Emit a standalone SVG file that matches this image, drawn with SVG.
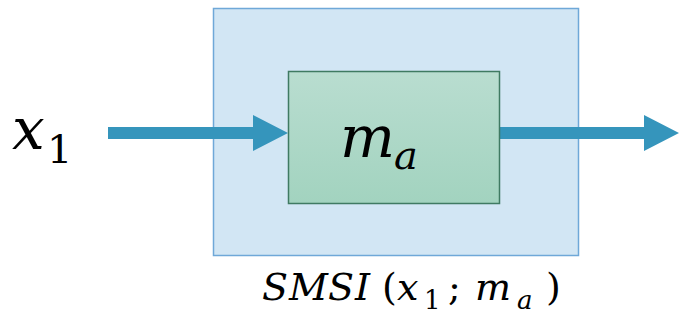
<svg xmlns="http://www.w3.org/2000/svg" width="679" height="331" viewBox="0 0 679 331">
<style>
.math{font-family:"DejaVu Serif","Liberation Serif",serif;font-style:italic;fill:#000}
.up{font-style:normal}
.arrow{fill:#3595bc}
</style>
<defs>
<linearGradient id="g" x1="0" y1="0" x2="0" y2="1">
<stop offset="0" stop-color="#b9ddd0"/>
<stop offset="1" stop-color="#a2d3bf"/>
</linearGradient>
</defs>
<g id="outer">
<rect x="213.5" y="8.5" width="365" height="247" fill="#d2e6f4" stroke="#6fa8d8" stroke-width="1.5"/>
</g>
<g id="connectors">
<polygon class="arrow" points="108,127 253,127 253,115 288,133 253,151 253,139 108,139"/>
<polygon class="arrow" points="500,127 644,127 644,115 679,133 644,151 644,139 500,139"/>
</g>
<g id="inner">
<rect x="288.5" y="71.5" width="211" height="132" fill="url(#g)" stroke="#3f7a62" stroke-width="1.5"/>
<text class="math" x="340" y="157" font-size="58">m</text>
<text class="math" x="394" y="169" font-size="40">a</text>
</g>
<g id="input">
<text class="math" x="12" y="149" font-size="58">x</text>
<text class="math up" x="47" y="163" font-size="40">1</text>
</g>
<g id="label">
<text class="math" y="300" font-size="38"><tspan x="262">S</tspan><tspan x="289">M</tspan><tspan x="328">S</tspan><tspan x="355">I</tspan><tspan class="up" x="382">(</tspan><tspan x="397">x</tspan><tspan class="up" x="424" y="309" font-size="26">1</tspan><tspan class="up" x="448" y="300">;</tspan><tspan x="475">m</tspan><tspan x="517" y="309" font-size="26">a</tspan><tspan class="up" x="546" y="300">)</tspan></text>
</g>
</svg>
